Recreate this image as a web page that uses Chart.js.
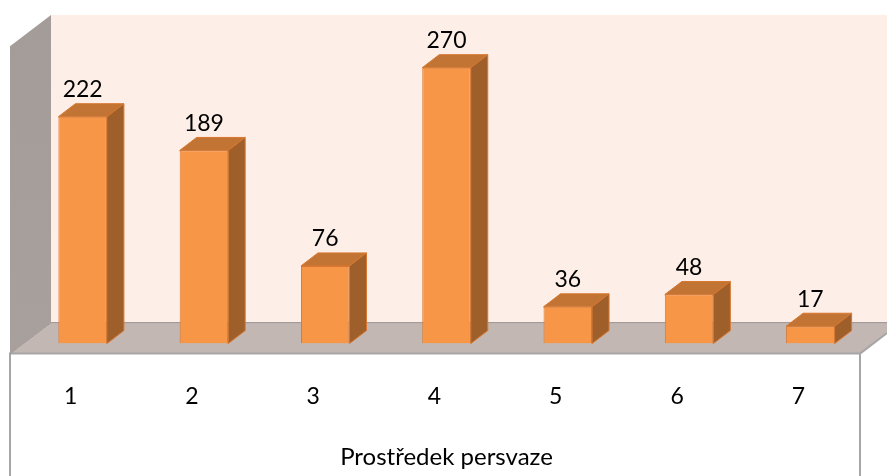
<!DOCTYPE html>
<html>
<head>
<meta charset="utf-8">
<script src="https://cdn.jsdelivr.net/npm/chart.js@4.4.1/dist/chart.umd.min.js"></script>
<style>
  html, body { margin: 0; padding: 0; background: #fff; }
  #wrap { width: 887px; height: 476px; }
</style>
</head>
<body>
<div id="wrap"><canvas id="persvazeChart" width="887" height="476"></canvas></div>
<script>
// Data
var categories = ['1', '2', '3', '4', '5', '6', '7'];
var counts = [222, 189, 76, 270, 36, 48, 17];
var axisTitle = 'Prostředek persvaze';

// 3D look
var depthX = 17, depthY = 13;   // bar depth
var colFront = '#F79646', colEdge = '#D9772F', colTop = '#C17433', colSide = '#9E5F2A';

var fontFamily = 'Lato, "Open Sans", sans-serif';

var walls = {
    id: 'walls',
    beforeDatasetsDraw: function (chart) {
        var ctx = chart.ctx;
        var zero = chart.scales.y.getPixelForValue(0);
        var W = chart.width, H = chart.height;
        var fFront = zero + 10, fBack = zero - 21;
        var lx = 10, bx = 51, wallTop = 15;
        var rx = 860;

        ctx.save();
        // back wall
        ctx.fillStyle = '#FDEEE7';
        ctx.fillRect(bx, wallTop, W - bx, fBack - wallTop);

        // left wall
        var g = ctx.createLinearGradient(0, wallTop, 0, fFront);
        g.addColorStop(0, '#A49C98');
        g.addColorStop(1, '#A8A09C');
        ctx.fillStyle = g;
        ctx.beginPath();
        ctx.moveTo(lx, wallTop + (bx - lx) * 0.76);
        ctx.lineTo(bx, wallTop);
        ctx.lineTo(bx, fBack);
        ctx.lineTo(lx, fFront);
        ctx.closePath();
        ctx.fill();

        // floor
        ctx.fillStyle = '#C2B7B3';
        ctx.beginPath();
        ctx.moveTo(lx, fFront);
        ctx.lineTo(bx, fBack);
        ctx.lineTo(W, fBack);
        ctx.lineTo(W, fFront - (W - rx) * 0.76);
        ctx.lineTo(rx, fFront);
        ctx.closePath();
        ctx.fill();

        // edges
        ctx.strokeStyle = '#A6A6A6';
        ctx.lineWidth = 2;
        ctx.beginPath();
        ctx.moveTo(lx, H);
        ctx.lineTo(lx, fFront);
        ctx.lineTo(rx, fFront);
        ctx.lineTo(rx, H);
        ctx.moveTo(rx, fFront);
        ctx.lineTo(W, fFront - (W - rx) * 0.76);
        ctx.stroke();
        ctx.strokeStyle = '#9E9592';
        ctx.lineWidth = 1;
        ctx.beginPath();
        ctx.moveTo(lx, fFront);
        ctx.lineTo(bx, fBack);
        ctx.lineTo(W, fBack);
        ctx.stroke();
        ctx.restore();
    },
    afterDatasetsDraw: function (chart) {
        var ctx = chart.ctx;
        var meta = chart.getDatasetMeta(0);
        ctx.save();
        meta.data.forEach(function (bar, i) {
            var p = bar.getProps(['x', 'y', 'base', 'width'], true);
            var l = p.x - p.width / 2, r = p.x + p.width / 2, t = p.y, b = p.base;
            // top face
            ctx.fillStyle = colTop;
            ctx.strokeStyle = colEdge;
            ctx.lineWidth = 1;
            ctx.beginPath();
            ctx.moveTo(l, t);
            ctx.lineTo(l + depthX, t - depthY);
            ctx.lineTo(r + depthX, t - depthY);
            ctx.lineTo(r, t);
            ctx.closePath();
            ctx.fill();
            ctx.stroke();
            // side face
            ctx.fillStyle = colSide;
            ctx.beginPath();
            ctx.moveTo(r, t);
            ctx.lineTo(r + depthX, t - depthY);
            ctx.lineTo(r + depthX, b - depthY);
            ctx.lineTo(r, b);
            ctx.closePath();
            ctx.fill();
            ctx.stroke();
            // value label
            ctx.fillStyle = '#000';
            ctx.font = '23px ' + fontFamily;
            ctx.textAlign = 'center';
            ctx.textBaseline = 'middle';
            ctx.fillText(String(counts[i]), p.x, t - 27);
        });
        ctx.restore();
    }
};

var ctx = document.getElementById('persvazeChart').getContext('2d');
var chart = new Chart(ctx, {
    type: 'bar',
    data: {
        labels: categories,
        datasets: [{
            data: counts,
            backgroundColor: colFront,
            borderColor: colEdge,
            borderWidth: 1,
            barPercentage: 0.4,
            categoryPercentage: 1
        }]
    },
    options: {
        responsive: false,
        animation: false,
        layout: { padding: { left: 22, right: 16, top: 37, bottom: 0 } },
        plugins: { legend: { display: false }, tooltip: { enabled: false } },
        scales: {
            x: {
                grid: { display: false, drawTicks: false },
                border: { display: false },
                ticks: {
                    color: '#000',
                    padding: 39,
                    labelOffset: -12,
                    font: { family: fontFamily, size: 23 }
                },
                title: {
                    display: true,
                    text: axisTitle,
                    color: '#000',
                    padding: { top: -6, bottom: 4 },
                    font: { family: fontFamily, size: 24 }
                }
            },
            y: {
                display: false,
                min: 0,
                max: 300
            }
        }
    },
    plugins: [walls]
});
</script>
</body>
</html>
